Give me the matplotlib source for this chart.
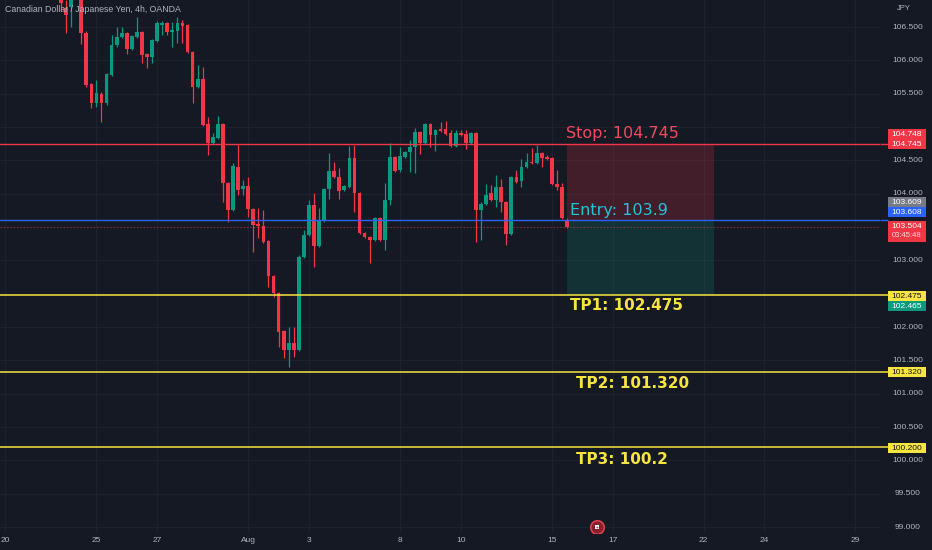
import numpy as np
import pandas as pd
import matplotlib
matplotlib.use('Agg')
import matplotlib.pyplot as plt
from matplotlib.patches import Rectangle

# ---------------- data ----------------
title = "Canadian Dollar / Japanese Yen, 4h, OANDA"

opens = [107.205, 106.785, 106.80, 107.00, 107.13, 106.41, 105.645, 105.36, 105.495, 105.36,
         105.78, 106.23, 106.35, 106.41, 106.17, 106.35, 106.425, 106.095, 106.05, 106.29,
         106.53, 106.56, 106.425, 106.44, 106.56, 106.53, 106.125, 105.60, 105.72, 105.045,
         104.76, 104.835, 105.045, 104.16, 103.755, 104.40, 104.07, 104.115, 103.77, 103.545,
         103.515, 103.29, 102.765, 102.51, 101.94, 101.655, 101.76, 101.655, 103.05, 103.38,
         103.83, 103.215, 103.59, 104.07, 104.34, 104.25, 104.055, 104.10, 104.535, 104.01,
         103.41, 103.35, 103.305, 103.635, 103.305, 103.905, 104.55, 104.355, 104.55, 104.625,
         104.70, 104.925, 104.76, 105.045, 104.88, 104.97, 104.97, 104.91, 104.715, 104.91,
         104.895, 104.76, 104.91, 103.755, 103.845, 104.01, 103.905, 104.10, 103.875, 103.395,
         104.25, 104.19, 104.40, 104.475, 104.46, 104.61, 104.55, 104.535, 104.145, 104.10,
         103.609]
highs = [107.28, 106.905, 107.10, 107.60, 107.205, 106.44, 105.66, 105.705, 105.52, 105.81,
         106.38, 106.50, 106.50, 106.43, 106.38, 106.65, 106.44, 106.11, 106.32, 106.59,
         106.59, 106.58, 106.575, 106.65, 106.605, 106.55, 106.14, 105.93, 105.90, 105.15,
         104.91, 105.165, 105.06, 104.18, 104.46, 104.745, 104.205, 104.25, 103.79, 103.785,
         103.755, 103.30, 102.78, 102.53, 101.96, 102.00, 102.00, 103.08, 103.455, 103.905,
         104.01, 103.785, 104.09, 104.61, 104.475, 104.385, 104.13, 104.715, 104.73, 104.03,
         103.43, 103.37, 103.65, 103.65, 104.16, 104.76, 104.57, 104.70, 104.64, 104.805,
         104.985, 104.94, 105.06, 105.06, 104.97, 105.075, 105.09, 104.95, 104.95, 104.955,
         104.955, 104.93, 104.93, 103.87, 104.145, 104.13, 104.28, 104.22, 103.89, 104.27,
         104.355, 104.52, 104.61, 104.685, 104.73, 104.63, 104.58, 104.55, 104.355, 104.16,
         103.64]
lows = [106.755, 106.41, 106.50, 106.98, 106.245, 105.60, 105.285, 105.30, 105.075, 105.33,
        105.76, 106.20, 106.33, 106.095, 106.15, 106.33, 105.96, 105.885, 105.96, 106.27,
        106.38, 106.38, 106.20, 106.26, 106.26, 106.11, 105.36, 105.58, 105.02, 104.58,
        104.74, 104.82, 103.875, 103.575, 103.74, 103.98, 103.98, 103.65, 103.125, 103.335,
        103.26, 102.60, 102.45, 101.70, 101.535, 101.40, 101.55, 101.64, 103.03, 103.36,
        102.90, 103.20, 103.57, 103.92, 104.23, 103.92, 104.04, 104.08, 103.725, 103.39,
        103.33, 102.96, 103.29, 103.29, 103.15, 103.83, 104.32, 104.33, 104.53, 104.325,
        104.31, 104.595, 104.74, 104.70, 104.64, 104.92, 104.88, 104.70, 104.70, 104.86,
        104.67, 104.74, 103.275, 103.305, 103.83, 103.89, 103.80, 103.725, 103.23, 103.38,
        104.16, 104.10, 104.38, 104.44, 104.44, 104.40, 104.50, 104.13, 104.055, 103.62,
        103.48]
closes = [106.86, 106.68, 107.025, 107.45, 106.41, 105.63, 105.36, 105.51, 105.36, 105.795,
          106.23, 106.35, 106.41, 106.17, 106.365, 106.425, 106.08, 106.05, 106.305, 106.56,
          106.56, 106.425, 106.455, 106.56, 106.515, 106.125, 105.60, 105.72, 105.03, 104.76,
          104.85, 105.045, 104.16, 103.755, 104.415, 104.055, 104.115, 103.77, 103.53, 103.515,
          103.275, 102.765, 102.51, 101.925, 101.655, 101.76, 101.655, 103.05, 103.38, 103.83,
          103.215, 103.59, 104.07, 104.34, 104.25, 104.04, 104.115, 104.535, 104.01, 103.41,
          103.35, 103.305, 103.635, 103.305, 103.905, 104.55, 104.34, 104.565, 104.625, 104.70,
          104.925, 104.76, 105.045, 104.88, 104.955, 104.94, 104.895, 104.715, 104.91, 104.88,
          104.76, 104.91, 103.755, 103.845, 103.98, 103.905, 104.10, 103.875, 103.395, 104.25,
          104.175, 104.40, 104.475, 104.46, 104.61, 104.535, 104.52, 104.145, 104.10, 103.635,
          103.504]

bars_per_day = 6
first_bar = 11          # first drawn bar, counted from the first bar of Jul 20
tick_labels = ['20', '25', '27', 'Aug', '3', '8', '10', '15', '17', '22', '24', '29']
tick_dates = ['2022-07-20', '2022-07-25', '2022-07-27', '2022-08-01', '2022-08-03', '2022-08-08',
              '2022-08-10', '2022-08-15', '2022-08-17', '2022-08-22', '2022-08-24', '2022-08-29']
event_date = '2022-08-16'
event_bar_in_day = 3

stop_level = 104.745
entry_level = 103.608
current_price = 103.504
tp_levels = [102.475, 101.320, 100.200]
stop_text = "Stop: 104.745"
entry_text = "Entry: 103.9"
tp_texts = ["TP1: 102.475", "TP2: 101.320", "TP3: 100.2"]
position_bars = 29
countdown = "03:45:48"

# scale label boxes: (text, face colour, text colour, stacking offset in box heights, reference price)
scale_boxes = [("104.748", "#f23645", "white", 1, 104.745),
               ("104.745", "#f23645", "white", 0, 104.745),
               ("103.609", "#787b86", "white", 2.5, 103.5),
               ("103.608", "#2962ff", "white", 1.5, 103.5),
               ("102.475", "#f7e43f", "#131722", 0, 102.465),
               ("102.465", "#089981", "white", -1, 102.465),
               ("101.320", "#f7e43f", "#131722", 0, 101.325),
               ("100.200", "#f7e43f", "#131722", 0, 100.185)]

# ---------------- style ----------------
BG = '#151924'
GRID = '#1f2330'
UP = '#089981'
DOWN = '#f23645'
TXT = '#b2b5be'
YEL = '#f7e43f'

W, H = 932, 550
fig = plt.figure(figsize=(W / 100, H / 100), dpi=100, facecolor=BG)
plot_w, plot_h, bottom_px = 880, 533, 17
ax = fig.add_axes([0, bottom_px / H, plot_w / W, plot_h / H], facecolor=BG)
ax2 = fig.add_axes([plot_w / W, bottom_px / H, (W - plot_w) / W, plot_h / H], facecolor=BG)

ymax = 106.905
ymin = ymax - 0.015 * plot_h
ax.set_ylim(ymin, ymax)
ax2.set_ylim(ymin, ymax)
ax.set_xlim(-12.06, 161.86)
ax2.set_xlim(0, W - plot_w)

for a in (ax, ax2):
    for s in a.spines.values():
        s.set_visible(False)
ax2.set_xticks([])
ax2.set_yticks([])

# ticks / grid
trading_days = pd.bdate_range('2022-07-20', '2022-09-02')
tick_pos = [trading_days.get_loc(pd.Timestamp(d)) * bars_per_day - first_bar for d in tick_dates]
ax.set_xticks(tick_pos)
ax.set_xticklabels(tick_labels, fontsize=6, color=TXT, family='Liberation Sans')
ax.tick_params(axis='x', length=0, pad=3)
price_ticks = np.arange(99.0, 106.51, 0.5)
ax.set_yticks(price_ticks)
ax.tick_params(axis='y', length=0, labelleft=False)
ax.grid(True, color=GRID, lw=0.7, zorder=0)
ax.set_axisbelow(True)

bh = 0.15
box_centres = [ref + off * bh for _, _, _, off, ref in scale_boxes]
box_centres += [current_price - 0.07]
for p in price_ticks:
    # labels hidden behind a price box in the reference are not drawn
    if any(abs(p - bc) < 0.12 for bc in box_centres):
        continue
    ax2.text(28, p, f"{p:.3f}", ha='center', va='center', fontsize=6, color=TXT,
             family='Liberation Sans', zorder=1)
ax2.text(17, ymax - 0.12, "JPY", ha='left', va='center', fontsize=5.5, color=TXT,
         family='Liberation Sans')

# candles
x = np.arange(len(opens))
o = np.array(opens); c = np.array(closes); hi = np.array(highs); lo = np.array(lows)
cols = np.where(c >= o, UP, DOWN)
ax.vlines(x, lo, hi, colors=cols, lw=0.9, zorder=3)
body_h = np.maximum(np.abs(c - o), 0.018)
ax.bar(x, body_h, bottom=np.minimum(o, c), width=0.74, color=cols, zorder=3, linewidth=0)

last = x[-1]
# position tool
ax.add_patch(Rectangle((last, entry_level), position_bars, stop_level - entry_level,
                       facecolor=DOWN, alpha=0.2, lw=0, zorder=1))
ax.add_patch(Rectangle((last, tp_levels[0]), position_bars, entry_level - tp_levels[0],
                       facecolor=UP, alpha=0.2, lw=0, zorder=1))

# horizontal levels
ax.axhline(stop_level, color='#f23645', lw=1.0, zorder=4)
ax.axhline(entry_level, color='#2962ff', lw=1.0, zorder=4)
ax.axhline(current_price, color='#f23645', lw=0.8, ls=(0, (1, 2)), alpha=0.6, zorder=4)
for lv in tp_levels:
    ax.axhline(lv, color=YEL, lw=1.1, zorder=4)
    ax2.hlines(lv, 0, 8, color=YEL, lw=1.1)
ax2.hlines(stop_level, 0, 8, color='#f23645', lw=1.0)
ax2.hlines(entry_level, 0, 8, color='#2962ff', lw=1.0)

# labels on the drawing
ax.text(last - 0.2, stop_level + 0.165, stop_text, color='#f04a5e', fontsize=11.5,
        va='center', ha='left', zorder=5)
ax.text(last + 0.6, entry_level + 0.147, entry_text, color='#22c3dc', fontsize=11.5,
        va='center', ha='left', zorder=5)
tp_dx = [0.6, 1.8, 1.8]
tp_dy = [0.145, 0.16, 0.18]
for t, lv, dx, dy in zip(tp_texts, tp_levels, tp_dx, tp_dy):
    ax.text(last + dx, lv - dy, t, color=YEL, fontsize=11, fontweight='bold',
            va='center', ha='left', zorder=5)

# event marker
ev = trading_days.get_loc(pd.Timestamp(event_date)) * bars_per_day - first_bar + event_bar_in_day
ev_y = ymin + 0.09
ax.scatter([ev], [ev_y], s=95, facecolor='#8a1f2c', edgecolor='#d9404f', lw=1.2, zorder=6)
ax.scatter([ev], [ev_y], s=10, marker='s', facecolor='white', lw=0, zorder=7)
ax.scatter([ev], [ev_y], s=2, facecolor='#d9404f', lw=0, zorder=8)

# price scale boxes
for (txt, fc, tc, off, ref), yc in zip(scale_boxes, box_centres):
    ax2.add_patch(Rectangle((8, yc - bh / 2), 38, bh, facecolor=fc, lw=0, zorder=5))
    ax2.text(27, yc, txt, ha='center', va='center', fontsize=6, color=tc,
             family='Liberation Sans', zorder=6)
# current price box with countdown
box_top = current_price + 0.09
ax2.add_patch(Rectangle((8, box_top - 0.315), 38, 0.315, facecolor='#f23645', lw=0, zorder=5))
ax2.text(27, current_price + 0.005, f"{current_price:.3f}", ha='center', va='center', fontsize=6,
         color='white', family='Liberation Sans', zorder=6)
ax2.text(27, current_price - 0.13, countdown, ha='center', va='center', fontsize=5.5,
         color='#ffd6da', family='Liberation Sans', zorder=6)

fig.text(5 / W, 1 - 9 / H, title, ha='left', va='center', fontsize=6.3, color=TXT,
         family='Liberation Sans')

fig.savefig('out.png', dpi=100, facecolor=BG)
